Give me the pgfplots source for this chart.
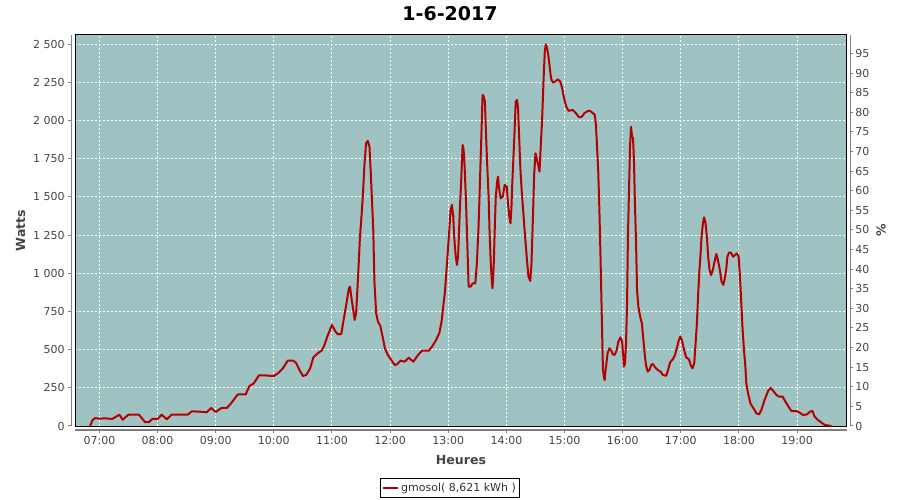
\documentclass[border=0pt]{standalone}
\usepackage{pgfplots}
\usepackage{pgfplotstable}
\pgfplotsset{compat=1.18}
\usepackage{fontspec}
\setmainfont{DejaVu Sans}
\definecolor{bgc}{RGB}{159,195,194}
\definecolor{linec}{RGB}{180,0,0}
\definecolor{tickc}{RGB}{68,68,68}
\definecolor{axc}{RGB}{128,128,128}
\newcommand{\tickfont}{\fontsize{8.25pt}{10pt}\selectfont}
\newcommand{\labfont}{\fontsize{9.4pt}{11pt}\selectfont\bfseries}

\pgfplotstableread{
h W
6.84 0
6.88 37
6.925 52
7.0 48
7.1 50
7.22 46
7.344 74
7.40 41
7.44 55
7.50 74
7.68 74
7.785 26
7.854 26
7.91 46
8.00 46
8.07 74
8.16 44
8.24 74
8.52 74
8.59 96
8.72 94
8.845 90
8.92 118
9.00 92
9.10 118
9.19 118
9.26 146
9.38 207
9.516 207
9.58 262
9.65 277
9.745 332
9.82 332
10.0 327
10.07 345
10.155 377
10.24 428
10.33 428
10.38 415
10.44 367
10.50 327
10.556 334
10.625 377
10.68 450
10.756 476
10.83 497
10.87 530
10.93 596
11.0 661
11.06 618
11.10 600
11.16 602
11.20 694
11.24 781
11.29 901
11.31 912
11.34 825
11.37 748
11.39 694
11.415 738
11.44 912
11.46 1065
11.48 1228
11.507 1370
11.53 1501
11.56 1719
11.587 1850
11.616 1866
11.645 1829
11.67 1632
11.69 1458
11.71 1283
11.73 945
11.76 738
11.79 683
11.83 657
11.87 585
11.91 508
11.96 465
12.02 432
12.08 399
12.12 404
12.18 428
12.25 421
12.32 447
12.40 421
12.48 465
12.55 493
12.665 493
12.73 524
12.79 563
12.845 607
12.885 683
12.91 770
12.94 868
12.96 967
12.98 1076
13.0 1185
13.02 1294
13.04 1414
13.063 1447
13.086 1370
13.10 1250
13.126 1119
13.15 1054
13.17 1119
13.20 1425
13.224 1621
13.247 1839
13.264 1807
13.28 1708
13.305 1468
13.33 1163
13.35 912
13.385 912
13.42 934
13.465 934
13.49 1054
13.52 1294
13.54 1534
13.557 1752
13.575 1970
13.59 2167
13.61 2156
13.63 2123
13.65 1905
13.67 1708
13.695 1490
13.71 1272
13.73 1076
13.75 945
13.76 901
13.78 1032
13.80 1294
13.816 1490
13.84 1599
13.856 1632
13.87 1567
13.90 1490
13.937 1501
13.97 1578
14.006 1567
14.03 1447
14.05 1370
14.07 1327
14.086 1425
14.10 1578
14.12 1752
14.14 1927
14.16 2123
14.184 2134
14.20 2079
14.22 1883
14.24 1687
14.264 1534
14.29 1403
14.31 1294
14.333 1185
14.356 1076
14.38 978
14.41 949
14.43 1054
14.454 1338
14.477 1643
14.50 1785
14.52 1752
14.546 1708
14.57 1665
14.59 1829
14.615 2014
14.64 2276
14.66 2450
14.678 2498
14.70 2472
14.72 2429
14.747 2341
14.77 2272
14.80 2248
14.84 2254
14.885 2269
14.925 2254
14.96 2210
14.98 2167
15.006 2123
15.03 2090
15.07 2062
15.14 2069
15.195 2047
15.25 2020
15.30 2025
15.34 2047
15.40 2062
15.44 2062
15.49 2047
15.52 2036
15.54 1970
15.56 1818
15.58 1660
15.60 1400
15.62 1080
15.636 792
15.65 541
15.66 377
15.675 323
15.69 301
15.70 345
15.72 410
15.74 476
15.77 508
15.80 497
15.83 469
15.86 465
15.897 497
15.925 552
15.96 580
15.99 552
16.01 454
16.02 388
16.04 410
16.057 541
16.075 803
16.09 1239
16.11 1567
16.126 1829
16.144 1959
16.16 1894
16.178 1883
16.195 1719
16.21 1458
16.23 1196
16.247 890
16.27 781
16.30 716
16.33 672
16.356 563
16.38 465
16.40 399
16.43 356
16.46 367
16.49 399
16.517 406
16.557 384
16.60 367
16.65 356
16.69 334
16.75 329
16.78 367
16.816 417
16.86 436
16.90 465
16.937 519
16.966 563
16.99 585
17.02 559
17.057 497
17.09 450
17.14 436
17.17 399
17.20 377
17.23 410
17.25 519
17.276 672
17.30 879
17.32 1021
17.34 1130
17.356 1239
17.38 1327
17.40 1366
17.425 1327
17.45 1228
17.47 1108
17.494 1021
17.52 988
17.55 1021
17.58 1076
17.61 1126
17.63 1098
17.655 1054
17.68 999
17.70 945
17.73 923
17.75 956
17.78 1021
17.80 1108
17.83 1135
17.86 1135
17.90 1108
17.93 1119
17.966 1130
17.994 1108
18.017 978
18.04 803
18.063 628
18.086 497
18.11 388
18.126 280
18.155 215
18.20 144
18.25 116
18.30 83
18.345 76
18.385 105
18.44 170
18.50 229
18.546 249
18.60 225
18.644 203
18.69 192
18.75 192
18.80 159
18.86 122
18.90 98
18.99 98
19.046 87
19.10 72
19.17 76
19.22 94
19.264 98
19.30 61
19.36 39
19.42 22
19.477 7
19.59 0
}\datatable

\begin{document}
\begin{tikzpicture}
\path[use as bounding box] (0,0) rectangle (675pt,375pt);
% main plot area
\begin{axis}[
  at={(56.5pt,55.5pt)}, anchor=south west, scale only axis,
  width=578.5pt, height=293.25pt,
  xmin=6.586, xmax=19.852, ymin=0, ymax=2559,
  xtick={7,...,19}, ytick={0,250,...,2500},
  xticklabels={}, yticklabels={},
  major tick length=0pt,
  grid=major,
  major grid style={white, line width=0.75pt, dash pattern=on 1.5pt off 1.5pt},
  axis background/.style={fill=bgc},
  axis line style={black, line width=0.75pt},
  legend style={at={(0.4857,-0.1586)}, anchor=center, draw=black, line width=0.75pt,
    font=\tickfont, text=black!80, inner xsep=1.5pt, inner ysep=2pt,
    nodes={inner sep=1.5pt}},
  legend image code/.code={\draw[#1] (0pt,0pt) -- (11.25pt,0pt);},
]
\addplot[linec, line width=1.5pt, line join=round] table[x=h,y=W] {\datatable};
\addlegendentry{gmosol( 8,621 kWh )}
\end{axis}
% left axis
\begin{axis}[
  at={(53.25pt,55.5pt)}, anchor=south west, scale only axis,
  width=578.5pt, height=293.25pt,
  xmin=0, xmax=1, ymin=0, ymax=2559,
  axis y line*=left, axis x line=none,
  y axis line style={axc, line width=0.75pt, -},
  ytick={0,250,...,2500},
  yticklabels={0,250,500,750,1 000,1 250,1 500,1 750,2 000,2 250,2 500},
  tick align=outside, major tick length=2.25pt,
  tick style={axc, line width=0.75pt},
  yticklabel style={font=\tickfont, text=tickc, inner sep=0pt, anchor=east, xshift=-2.25pt},
]
\end{axis}
% right axis
\begin{axis}[
  at={(637.5pt,55.5pt)}, anchor=south east, scale only axis,
  width=578.5pt, height=293.25pt,
  xmin=0, xmax=1, ymin=0, ymax=99.7,
  axis y line*=right, axis x line=none,
  y axis line style={axc, line width=0.75pt, -},
  ytick={0,5,...,95},
  yticklabels={0,5,10,15,20,25,30,35,40,45,50,55,60,65,70,75,80,85,90,95},
  tick align=outside, major tick length=2.25pt,
  tick style={axc, line width=0.75pt},
  yticklabel style={font=\tickfont, text=tickc, inner sep=0pt, anchor=west, xshift=1.5pt},
]
\end{axis}
% bottom axis
\begin{axis}[
  at={(56.5pt,52.5pt)}, anchor=south west, scale only axis,
  width=578.5pt, height=293.25pt,
  xmin=6.586, xmax=19.852, ymin=0, ymax=1,
  axis x line*=bottom, axis y line=none,
  x axis line style={axc, line width=0.75pt, -},
  xtick={7,...,19},
  xticklabels={07:00,08:00,09:00,10:00,11:00,12:00,13:00,14:00,15:00,16:00,17:00,18:00,19:00},
  tick align=outside, major tick length=2.25pt,
  tick style={axc, line width=0.75pt},
  xticklabel style={font=\tickfont, text=tickc, inner sep=0pt, anchor=north, yshift=-2.25pt},
]
\end{axis}
\node[font=\fontsize{14.25pt}{16pt}\selectfont\bfseries] at (337.5pt,364.6pt) {1-6-2017};
\node[rotate=90, font=\labfont, text=tickc] at (15.4pt,202.1pt) {Watts};
\node[rotate=90, font=\labfont, text=tickc] at (660.75pt,202.1pt) {\%};
\node[font=\labfont, text=tickc] at (345.75pt,30pt) {Heures};
\end{tikzpicture}
\end{document}
